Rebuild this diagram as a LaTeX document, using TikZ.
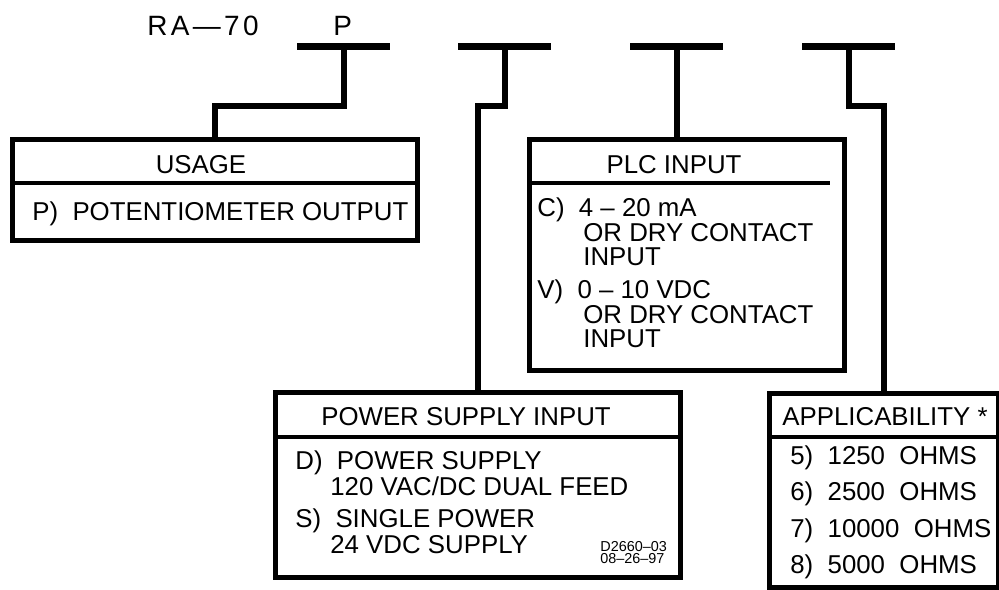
\documentclass[tikz,border=0pt]{standalone}
\usepackage{fontspec}
\setmainfont{Liberation Sans}
\usetikzlibrary{positioning}

\begin{document}
\begin{tikzpicture}[x=0.02cm, y=-0.02cm, font=\fontsize{14.7}{13.3}\selectfont,
slot/.style={fill, inner sep=0pt, minimum width=1.86cm, minimum height=0.14cm},
link/.style={line width=0.12cm},
box/.style={draw, line width=0.1cm, inner sep=0pt, anchor=north west},
rule/.style={line width=0.07cm},
txt/.style={anchor=base west, inner sep=0pt, align=left},
title/.style={anchor=base, inner sep=0pt},
big/.style={font=\fontsize{15.9}{16}\selectfont\addfontfeature{LetterSpace=12}}]
  \useasboundingbox (0,0) rectangle (999,589);
  \node[txt, big] (model) at (147,35) {RA---70};
  \node[txt, big] (code) at (333,35) {P};

  \node[slot] (slotP) at (343.5,46) {};
  \node[slot] (slotS) at (504.5,46) {};
  \node[slot] (slotC) at (676.5,46) {};
  \node[slot] (slotR) at (848.5,46) {};

  \node[box, minimum width=8.1cm, minimum height=2.02cm] (usage) at (10,137) {};
  \node[box, minimum width=6.3cm, minimum height=4.62cm] (plc) at (527,137) {};
  \node[box, minimum width=8.1cm, minimum height=3.7cm] (power) at (273,390) {};
  \node[box, minimum width=4.58cm, minimum height=3.88cm] (app) at (767,391) {};

  \draw[rule] ([yshift=-0.92cm]usage.north west) -- ([yshift=-0.92cm]usage.north east);
  \draw[rule] ([yshift=-0.92cm]plc.north west) -- ([yshift=-0.92cm, xshift=-0.34cm]plc.north east);
  \draw[rule] ([yshift=-0.94cm]power.north west) -- ([yshift=-0.94cm]power.north east);
  \draw[rule] ([yshift=-0.92cm]app.north west) -- ([yshift=-0.92cm]app.north east);

  \draw[link] (slotP.south) -- ++(0,56) -| (usage.north);
  \draw[link] (slotS.south) -- ++(0,56) -| (power.north);
  \draw[link] (slotC.south) -- (slotC.south |- plc.north);
  \draw[link] (slotR.south) -- ++(0,56) -| (app.north);

  \node[title] (usageTitle) at (201,173) {USAGE};
  \node[txt] (usageP) at (32,220) {P)\ \ POTENTIOMETER OUTPUT};

  \node[title] (plcTitle) at (674,173) {PLC INPUT};
  \node[txt] (plcC) at (537,265) {C)\ \ 4 -- 20 mA\\\hspace*{0.92cm}OR DRY CONTACT\\\hspace*{0.92cm}INPUT};
  \node[txt] (plcV) at (537,347) {V)\ \ 0 -- 10 VDC\\\hspace*{0.92cm}OR DRY CONTACT\\\hspace*{0.92cm}INPUT};

  \node[title] (powerTitle) at (466,425) {POWER SUPPLY INPUT};
  \node[txt] (powerD) at (295,495) {D)\ \ POWER SUPPLY\\\hspace*{0.7cm}120 VAC/DC DUAL FEED};
  \node[txt] (powerS) at (295,553) {S)\ \ SINGLE POWER\\\hspace*{0.7cm}24 VDC SUPPLY};
  \node[txt, font=\fontsize{8.2}{5.7}\selectfont] (stamp) at (600,563) {D2660--03\\08--26--97};

  \node[title] (appTitle) at (885,425) {APPLICABILITY *};
  \node[txt] (appList) at (790,573) {5)\ \ 1250\ \ OHMS\\[5.8pt]6)\ \ 2500\ \ OHMS\\[5.8pt]7)\ \ 10000\ \ OHMS\\[5.8pt]8)\ \ 5000\ \ OHMS};
\end{tikzpicture}
\end{document}
